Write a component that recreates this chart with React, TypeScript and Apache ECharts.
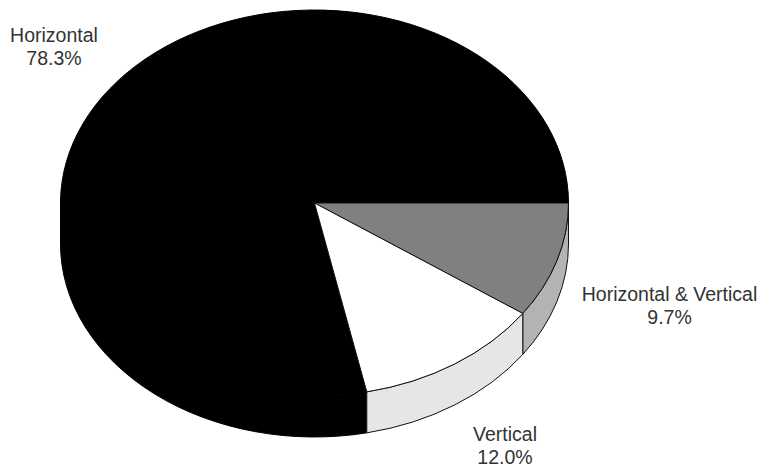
import React, { useEffect, useRef } from "react";
import * as echarts from "echarts";

// Slices run clockwise from the east edge of the disc.
const sliceNames = ["Horizontal & Vertical", "Vertical", "Horizontal"];
const sliceShares = [9.7, 12.0, 78.3];
const topColors = ["#808080", "#ffffff", "#000000"];
const wallColors = ["#b3b3b3", "#e6e6e6", "#000000"];
const outlineColors = ["#111111", "#111111", "#000000"];
const labelCenters = [
  [669.5, 305.5],
  [505, 445],
  [54, 46.5],
];

const CX = 314.5;
const CY = 203;
const RX = 254;
const RY = 193;
const DEPTH = 41;
const FONT_SIZE = 19.5;

const rimPoint = (deg: number, dy = 0) => {
  const a = (deg * Math.PI) / 180;
  return [CX + RX * Math.cos(a), CY + dy + RY * Math.sin(a)];
};

// Top face of one slice as an elliptical sector.
const topPath = (a0: number, a1: number) => {
  const [x0, y0] = rimPoint(a0);
  const [x1, y1] = rimPoint(a1);
  const large = a1 - a0 > 180 ? 1 : 0;
  return `M${CX} ${CY}L${x0} ${y0}A${RX} ${RY} 0 ${large} 1 ${x1} ${y1}Z`;
};

// Visible outer wall: only the front half of the rim (0..180 degrees) shows.
const wallPath = (a0: number, a1: number) => {
  const from = Math.max(a0, 0);
  const to = Math.min(a1, 180);
  if (to <= from) return null;
  const [x0, y0] = rimPoint(from);
  const [x1, y1] = rimPoint(to);
  const [x2, y2] = rimPoint(to, DEPTH);
  const [x3, y3] = rimPoint(from, DEPTH);
  return `M${x0} ${y0}A${RX} ${RY} 0 0 1 ${x1} ${y1}L${x2} ${y2}A${RX} ${RY} 0 0 0 ${x3} ${y3}Z`;
};

export default function App() {
  const ref = useRef<HTMLDivElement>(null);

  useEffect(() => {
    if (!ref.current) return;
    const chart = echarts.init(ref.current, null, { renderer: "svg" });
    const total = sliceShares.reduce((s, v) => s + v, 0);

    // Draw the large slice first so the lighter slices sit on top of it.
    const drawOrder = [2, 0, 1];
    const startAngles = sliceShares.map((_, i) =>
      (sliceShares.slice(0, i).reduce((s, v) => s + v, 0) / total) * 360
    );

    chart.setOption({
      animation: false,
      backgroundColor: "#ffffff",
      series: [
        {
          type: "custom",
          coordinateSystem: "none",
          silent: true,
          data: drawOrder.map((i) => [i, sliceShares[i]]),
          renderItem: (_params: any, api: any) => {
            const i = api.value(0);
            const a0 = startAngles[i];
            const a1 = a0 + (api.value(1) / total) * 360;
            const children: any[] = [];
            const wall = wallPath(a0, a1);
            const outline = { stroke: outlineColors[i], lineWidth: 1 };
            if (wall) {
              children.push({
                type: "path",
                shape: { pathData: wall },
                style: { fill: wallColors[i], ...outline },
              });
            }
            children.push({
              type: "path",
              shape: { pathData: topPath(a0, a1) },
              style: { fill: topColors[i], ...outline },
            });
            return { type: "group", children };
          },
        },
      ],
      graphic: sliceNames.map((name, i) => ({
        type: "text",
        x: labelCenters[i][0],
        y: labelCenters[i][1],
        style: {
          text: `${name}\n${sliceShares[i].toFixed(1)}%`,
          fill: "#333333",
          font: `${FONT_SIZE}px "Liberation Sans", Arial, sans-serif`,
          lineHeight: 23,
          align: "center",
          verticalAlign: "middle",
        },
      })),
    });
    return () => chart.dispose();
  }, []);

  return (
    <div
      ref={ref}
      style={{ position: "fixed", left: 0, top: 0, width: 760, height: 466 }}
    />
  );
}
